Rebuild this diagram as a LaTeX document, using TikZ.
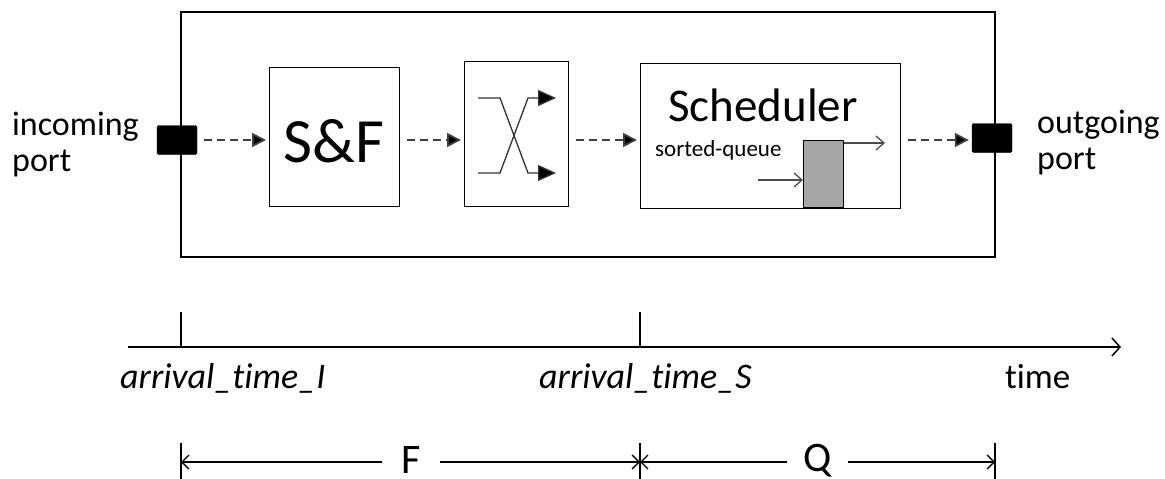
\documentclass[tikz,border=0pt]{standalone}
\usepackage{fontspec}
\setmainfont[Ligatures=NoCommon]{Carlito}
\usetikzlibrary{arrows.meta}
\begin{document}
\begin{tikzpicture}[x=1pt,y=-1pt,
  box/.style={draw,line width=1.3pt,inner sep=0pt,anchor=north west},
  port/.style={draw,fill=black,rounded corners=1.5pt,minimum width=40pt,minimum height=29pt,inner sep=0pt},
  flow/.style={dashed,dash pattern=on 8pt off 5pt,line width=1.8pt,draw=black!75,
    -{Triangle[length=14pt,width=14pt,fill=black]},shorten <=7pt,shorten >=3pt},
  swarrow/.style={line width=1.3pt,draw=black!80,-{Triangle[length=18pt,width=16pt,fill=black]}},
  thin/.style={line width=1.3pt,-{Straight Barb[length=8pt,width=14pt]}},
  spanl/.style={line width=1.3pt,{Straight Barb[length=7pt,width=14pt]}-},
  spanr/.style={line width=1.3pt,-{Straight Barb[length=7pt,width=14pt]}},
  lbl/.style={font=\fontsize{34pt}{40pt}\selectfont,inner sep=0pt,anchor=base west},
  tl/.style={font=\fontsize{36pt}{42pt}\selectfont\itshape,inner sep=0pt,anchor=base west},
  big/.style={font=\fontsize{42pt}{50pt}\selectfont,inner sep=0pt,anchor=base}]
\useasboundingbox (0,0) rectangle (1165,479);

% switch enclosure
\draw[line width=1.5pt] (181,12) rectangle (995,257);

% ports
\node[port] (in) at (177,140) {};
\node[port] (out) at (992,138) {};

% processing stages
\node[box,minimum width=130pt,minimum height=139pt] (sf) at (269,67) {};
\node[font=\fontsize{63pt}{70pt}\selectfont,inner sep=0pt,anchor=base] at (334,162) {S\&F};
\node[box,minimum width=104pt,minimum height=145pt] (sw) at (464,61) {};
\node[box,minimum width=260pt,minimum height=145pt] (sch) at (640,63) {};
\node[font=\fontsize{47pt}{54pt}\selectfont,inner sep=0pt,anchor=base] (schl) at (763,121) {Scheduler};
\node[font=\fontsize{23pt}{27pt}\selectfont,inner sep=0pt,anchor=base west] (sq) at (655,156) {sorted-queue};

% sorted queue
\node[draw,line width=1.3pt,fill=black!35,minimum width=40pt,minimum height=67pt,inner sep=0pt,anchor=north west] (q) at (803,140) {};
\coordinate (qin) at (758,180);
\coordinate (qout) at (885,143);
\draw[thin,draw=black!70] (qin) -- (qin -| q.west);
\draw[thin,draw=black!70] (qout -| q.east) -- (qout);

% crossbar inside the switch
\coordinate (a1) at (478,98);
\coordinate (a2) at (478,173);
\draw[swarrow] (a1) -- (500,98) -- (528,173) -- (556,173);
\draw[swarrow] (a2) -- (500,173) -- (528,98) -- (556,98);

% data path
\draw[flow] (in.east) -- (sf.west |- in.east);
\draw[flow] (sf.east |- in.east) -- (sw.west |- in.east);
\draw[flow] (sw.east |- in.east) -- (sch.west |- in.east);
\draw[flow] (sch.east |- in.east) -- (out.west |- in.east);

% port labels
\node[lbl] at (12,135) {incoming};
\node[lbl] at (12,171) {port};
\node[lbl] at (1037,133) {outgoing};
\node[lbl] at (1037,169) {port};

% time axis
\coordinate (t0) at (128,347);
\coordinate (t1) at (1121,347);
\draw[line width=1.5pt,-{Straight Barb[length=8pt,width=18pt]}] (t0) -- (t1);
\coordinate (ta) at (181,347);
\coordinate (tb) at (640,347);
\draw[line width=1.2pt] (ta) -- ++(0,-35);
\draw[line width=1.2pt] (tb) -- ++(0,-35);
\node[tl] at (120,388) {arrival\_time\_I};
\node[tl] at (539,388) {arrival\_time\_S};
\node[tl,font=\fontsize{35pt}{42pt}\selectfont] at (1005,388) {time};

% intervals
\coordinate (fa) at (181,462);
\coordinate (fb) at (640,462);
\coordinate (fc) at (995,462);
\draw[line width=1.2pt] (181,443) -- (181,479);
\draw[line width=1.2pt] (640,443) -- (640,479);
\draw[line width=1.2pt] (995,443) -- (995,479);
\node[big] (F) at (411,473) {F};
\node[big] (Q) at (818,471) {Q};
\draw[spanl] (fa) -- (382,462);
\draw[spanr] (440,462) -- (fb);
\draw[spanl] (fb) -- (787,462);
\draw[spanr] (848,462) -- (fc);
\end{tikzpicture}
\end{document}
